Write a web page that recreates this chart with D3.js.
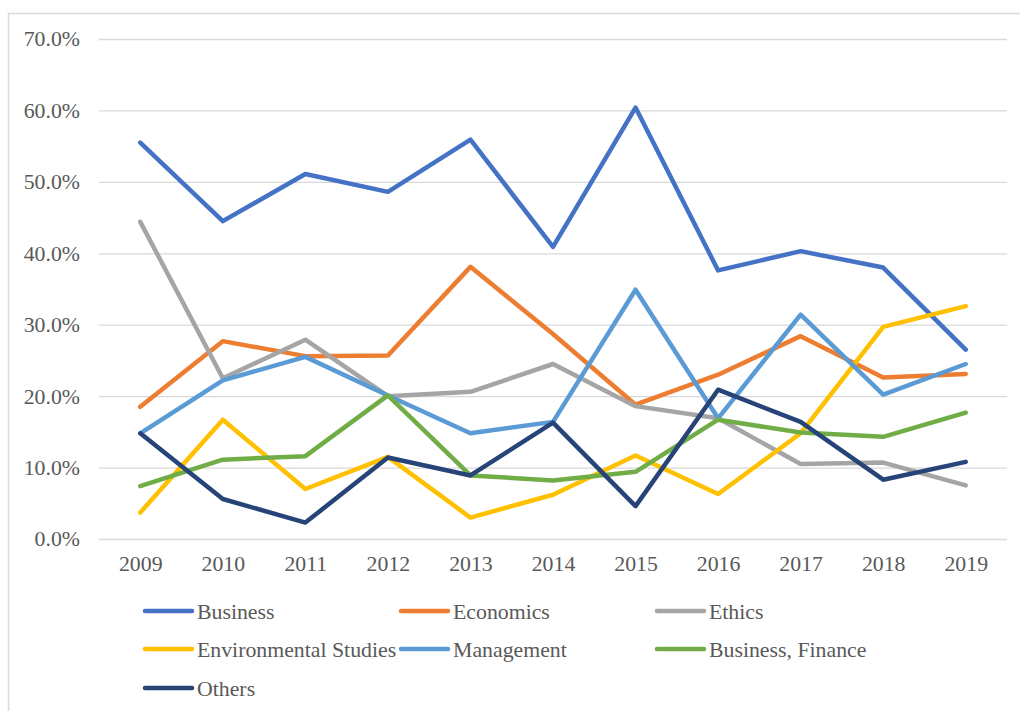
<!DOCTYPE html>
<html>
<head>
<meta charset="utf-8">
<script src="https://cdn.jsdelivr.net/npm/d3@7"></script>
<style>
  html, body { margin: 0; padding: 0; background: #fff; }
  svg { display: block; }
</style>
</head>
<body>
<svg id="chart" width="1020" height="711"></svg>
<script>
const years = ["2009","2010","2011","2012","2013","2014","2015","2016","2017","2018","2019"];
const yTicks = [0, 0.1, 0.2, 0.3, 0.4, 0.5, 0.6, 0.7];

const seriesNames = ["Business","Economics","Ethics","Environmental Studies","Management","Business, Finance","Others"];
const seriesColors = ["#4472C4","#ED7D31","#A5A5A5","#FFC000","#5B9BD5","#70AD47","#264478"];

const business      = [0.555, 0.445, 0.511, 0.486, 0.559, 0.409, 0.604, 0.376, 0.403, 0.380, 0.265];
const economics     = [0.185, 0.277, 0.256, 0.257, 0.381, 0.287, 0.188, 0.230, 0.284, 0.226, 0.231];
const ethics        = [0.444, 0.225, 0.279, 0.200, 0.206, 0.245, 0.186, 0.169, 0.105, 0.107, 0.075];
const envStudies    = [0.037, 0.167, 0.070, 0.115, 0.030, 0.062, 0.117, 0.063, 0.148, 0.297, 0.326];
const management    = [0.148, 0.222, 0.255, 0.201, 0.148, 0.164, 0.349, 0.169, 0.314, 0.202, 0.245];
const busFinance    = [0.074, 0.111, 0.116, 0.201, 0.089, 0.082, 0.094, 0.167, 0.149, 0.143, 0.177];
const others        = [0.148, 0.056, 0.023, 0.114, 0.089, 0.163, 0.046, 0.209, 0.164, 0.083, 0.108];

const seriesValues = [business, economics, ethics, envStudies, management, busFinance, others];

const svg = d3.select("#chart");
const W = 1020, H = 711;
const plot = { left: 99, right: 1007, top: 39, bottom: 539 };
const font = "'Liberation Serif', 'Times New Roman', serif";
const fs = "21.8px";

// outer frame (top + left visible)
svg.append("path")
  .attr("d", `M8.5,${H} V13.5 H${W}`)
  .attr("fill", "none").attr("stroke", "#D9D9D9").attr("stroke-width", 1.5);

const x = d3.scalePoint().domain(years).range([plot.left, plot.right]).padding(0.5);
const y = d3.scaleLinear().domain([0, 0.7]).range([plot.bottom, plot.top]);

// gridlines
const yAxis = d3.axisLeft(y).tickValues(yTicks).tickFormat(d3.format(".1%"))
  .tickSize(-(plot.right - plot.left)).tickPadding(19);
const gy = svg.append("g").attr("transform", `translate(${plot.left},0)`).call(yAxis);
gy.select(".domain").remove();
gy.selectAll(".tick line").attr("stroke", "#D9D9D9").attr("stroke-width", 1.3);
gy.selectAll(".tick text").attr("fill", "#595959")
  .style("font-family", font).style("font-size", fs);

const xAxis = d3.axisBottom(x).tickSize(0).tickPadding(17);
const gx = svg.append("g").attr("transform", `translate(0,${plot.bottom})`).call(xAxis);
gx.select(".domain").remove();
gx.selectAll(".tick text").attr("fill", "#595959")
  .style("font-family", font).style("font-size", fs);

// lines
const line = d3.line().x((d, i) => x(years[i])).y(d => y(d));
seriesValues.forEach((vals, k) => {
  svg.append("path")
    .datum(vals)
    .attr("d", line)
    .attr("fill", "none")
    .attr("stroke", seriesColors[k])
    .attr("stroke-width", 4.5)
    .attr("stroke-linejoin", "round")
    .attr("stroke-linecap", "round");
});

// legend
const legCols = [143, 399, 655];
const legRows = [611, 649, 688];
const leg = svg.append("g");
seriesNames.forEach((name, k) => {
  const cx = legCols[k % 3], cy = legRows[Math.floor(k / 3)];
  leg.append("line")
    .attr("x1", cx + 2).attr("x2", cx + 49).attr("y1", cy).attr("y2", cy)
    .attr("stroke", seriesColors[k]).attr("stroke-width", 4.5).attr("stroke-linecap", "round");
  leg.append("text")
    .attr("x", cx + 54).attr("y", cy).attr("dy", "0.35em")
    .attr("fill", "#595959")
    .style("font-family", font).style("font-size", fs)
    .text(name);
});
</script>
</body>
</html>
